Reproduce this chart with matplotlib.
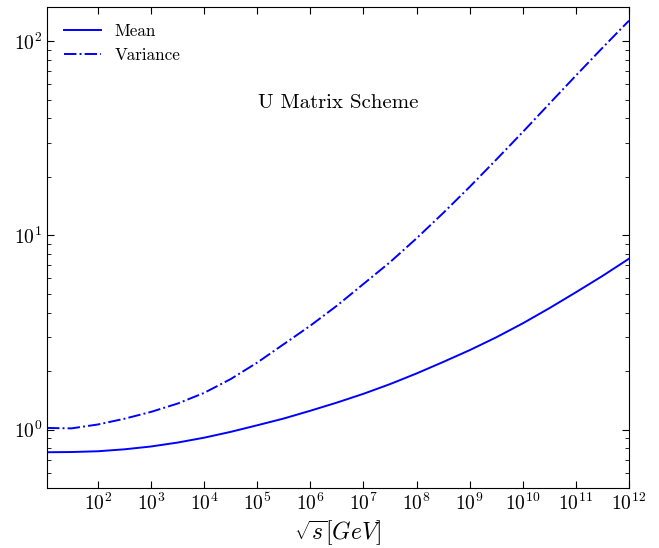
import numpy as np
import matplotlib
matplotlib.use("Agg")
import matplotlib.pyplot as plt
from matplotlib.ticker import NullLocator

plt.rcParams['font.family'] = 'serif'
plt.rcParams['font.serif'] = ['cmr10', 'DejaVu Serif']
plt.rcParams['mathtext.fontset'] = 'cm'
plt.rcParams['axes.formatter.use_mathtext'] = True

# values, x given as log10(sqrt(s)/GeV)
log_s = [1.04, 1.5, 2.0, 2.5, 3.0, 3.5, 4.0, 4.5, 5.0, 5.5, 6.0, 6.5, 7.0,
         7.5, 8.0, 8.5, 9.0, 9.5, 10.0, 10.5, 11.0, 11.5, 12.0]
mean = [0.764, 0.766, 0.773, 0.791, 0.818, 0.857, 0.908, 0.973, 1.052, 1.140,
        1.250, 1.377, 1.528, 1.714, 1.945, 2.228, 2.564, 2.985, 3.524, 4.217,
        5.093, 6.180, 7.586]
variance = [1.019, 1.014, 1.062, 1.137, 1.233, 1.361, 1.545, 1.82, 2.213,
            2.754, 3.428, 4.345, 5.623, 7.278, 9.66, 13.03, 17.78, 24.55,
            34.08, 47.64, 66.53, 92.47, 127.6]
x_ticks = [1e2, 1e3, 1e4, 1e5, 1e6, 1e7, 1e8, 1e9, 1e10, 1e11, 1e12]

sqrt_s = 10 ** np.array(log_s)

fig = plt.figure(figsize=(6.59, 5.48), dpi=100)
ax = fig.add_axes([0.0713, 0.1095, 0.8832, 0.8777])

ax.plot(sqrt_s, mean, color='#0000ff', lw=1.4, label='Mean')
ax.plot(sqrt_s, variance, color='#0000ff', lw=1.4, ls='-.', label='Variance')

ax.set_xscale('log')
ax.set_yscale('log')
ax.set_xlim(sqrt_s[0], 1e12)
ax.set_ylim(0.5, 150)

ax.set_xticks(x_ticks)
ax.xaxis.set_minor_locator(NullLocator())
ax.tick_params(which='both', direction='in', top=True, right=True, labelsize=14)
ax.tick_params(which='major', length=5)
ax.tick_params(which='minor', length=3)

ax.set_xlabel(r'$\sqrt{s}[GeV]$', fontsize=17, labelpad=3)
ax.text(0.5, 0.80, 'U Matrix Scheme', transform=ax.transAxes,
        ha='center', va='center', fontsize=15)
ax.legend(loc='upper left', frameon=False, fontsize=12.3, handlelength=2.15,
          borderaxespad=0.6)

fig.savefig('out.png', dpi=100)
